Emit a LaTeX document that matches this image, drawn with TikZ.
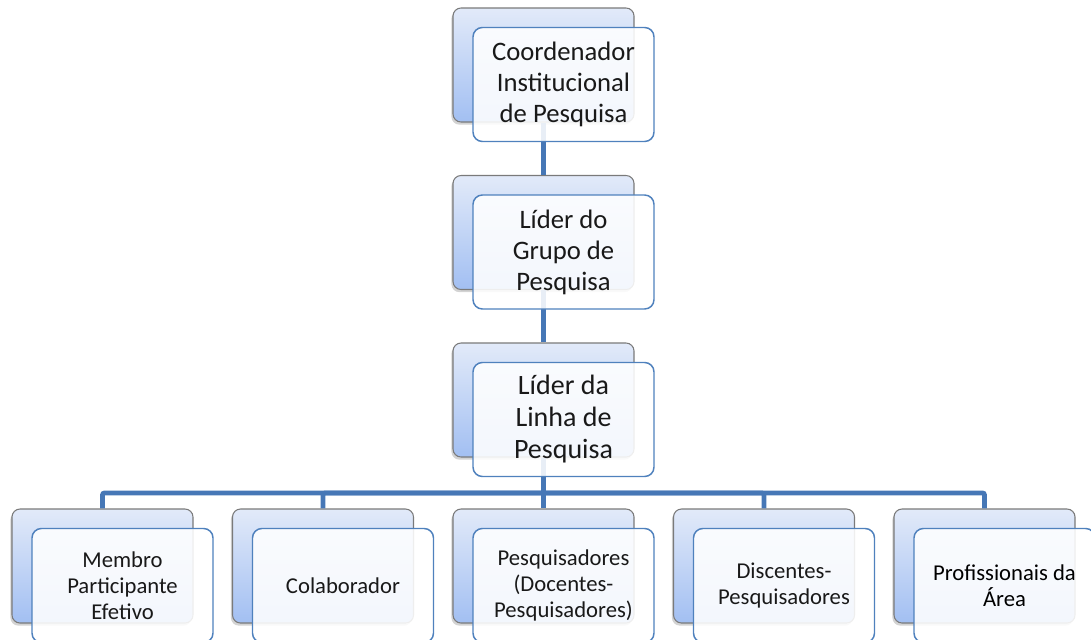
\documentclass[tikz,border=0pt]{standalone}
\usepackage{fontspec}
\setmainfont{Carlito}
\usetikzlibrary{shadows}
\definecolor{linec}{HTML}{4677B6}
\definecolor{frontc}{HTML}{4F81BD}
\definecolor{gradtop}{HTML}{E2EAF9}
\definecolor{gradbot}{HTML}{A2BFF2}
\definecolor{backedge}{HTML}{7A7A7A}
\tikzset{
  backbox/.style={rectangle, rounded corners=6pt, minimum width=135.75pt, minimum height=85.5pt,
    draw=backedge, line width=0.8pt, top color=gradtop, bottom color=gradbot,
    drop shadow={shadow xshift=-1.2pt, shadow yshift=-2pt, opacity=0.35}},
  frontbox/.style={rectangle, rounded corners=7pt, minimum width=135.75pt, minimum height=85.5pt,
    draw=frontc, line width=1.1pt, fill=white, fill opacity=0.88, text opacity=1, align=center, text=black!90},
  conn/.style={draw=linec, line width=3.6pt, rounded corners=1.5pt},
  bigtxt/.style={font=\fontsize{20}{23.25}\selectfont},
  midtxt/.style={font=\fontsize{21}{24}\selectfont},
  smalltxt/.style={font=\fontsize{17}{19.5}\selectfont},
}
\begin{document}
\begin{tikzpicture}[x=0.75pt,y=-0.75pt]
\useasboundingbox (0,0) rectangle (1091,639);
\clip (0,0) rectangle (1091,639);
% back boxes
\node[backbox] (b1) at (543.5,65) {};
\node[backbox] (b2) at (543.5,232.5) {};
\node[backbox] (b3) at (543.5,400) {};
\node[backbox] (c1) at (102.5,566) {};
\node[backbox] (c2) at (323,566) {};
\node[backbox] (c3) at (543.5,566) {};
\node[backbox] (c4) at (764,566) {};
\node[backbox] (c5) at (984.5,566) {};
\coordinate (bar) at (543.5,493);
% connectors (behind front boxes)
\draw[conn] (b1.south) -- (b2.north);
\draw[conn] (b2.south) -- (b3.north);
\draw[conn] (b3.south) -- (bar);
\draw[conn] (bar) -| (c1.north);
\draw[conn] (bar) -| (c2.north);
\draw[conn] (bar) -- (c3.north);
\draw[conn] (bar) -| (c4.north);
\draw[conn] (bar) -| (c5.north);
% front boxes
\node[frontbox, bigtxt] (f1) at (563.5,84.5) {Coordenador\\Institucional\\de Pesquisa};
\node[frontbox, bigtxt] (f2) at (563.5,252) {Líder do\\Grupo de\\Pesquisa};
\node[frontbox, midtxt] (f3) at (563.5,419.5) {Líder da\\Linha de\\Pesquisa};
\node[frontbox, smalltxt] (g1) at (122.5,585.5) {Membro\\Participante\\Efetivo};
\node[frontbox, smalltxt] (g2) at (343,585.5) {Colaborador};
\node[frontbox, smalltxt] (g3) at (563.5,585.5) {Pesquisadores\\(Docentes-\\Pesquisadores)};
\node[frontbox, smalltxt] (g4) at (784,585.5) {Discentes-\\Pesquisadores};
\node[frontbox, smalltxt, text=black] (g5) at (1004.5,585.5) {Profissionais da\\Área};
\end{tikzpicture}
\end{document}
